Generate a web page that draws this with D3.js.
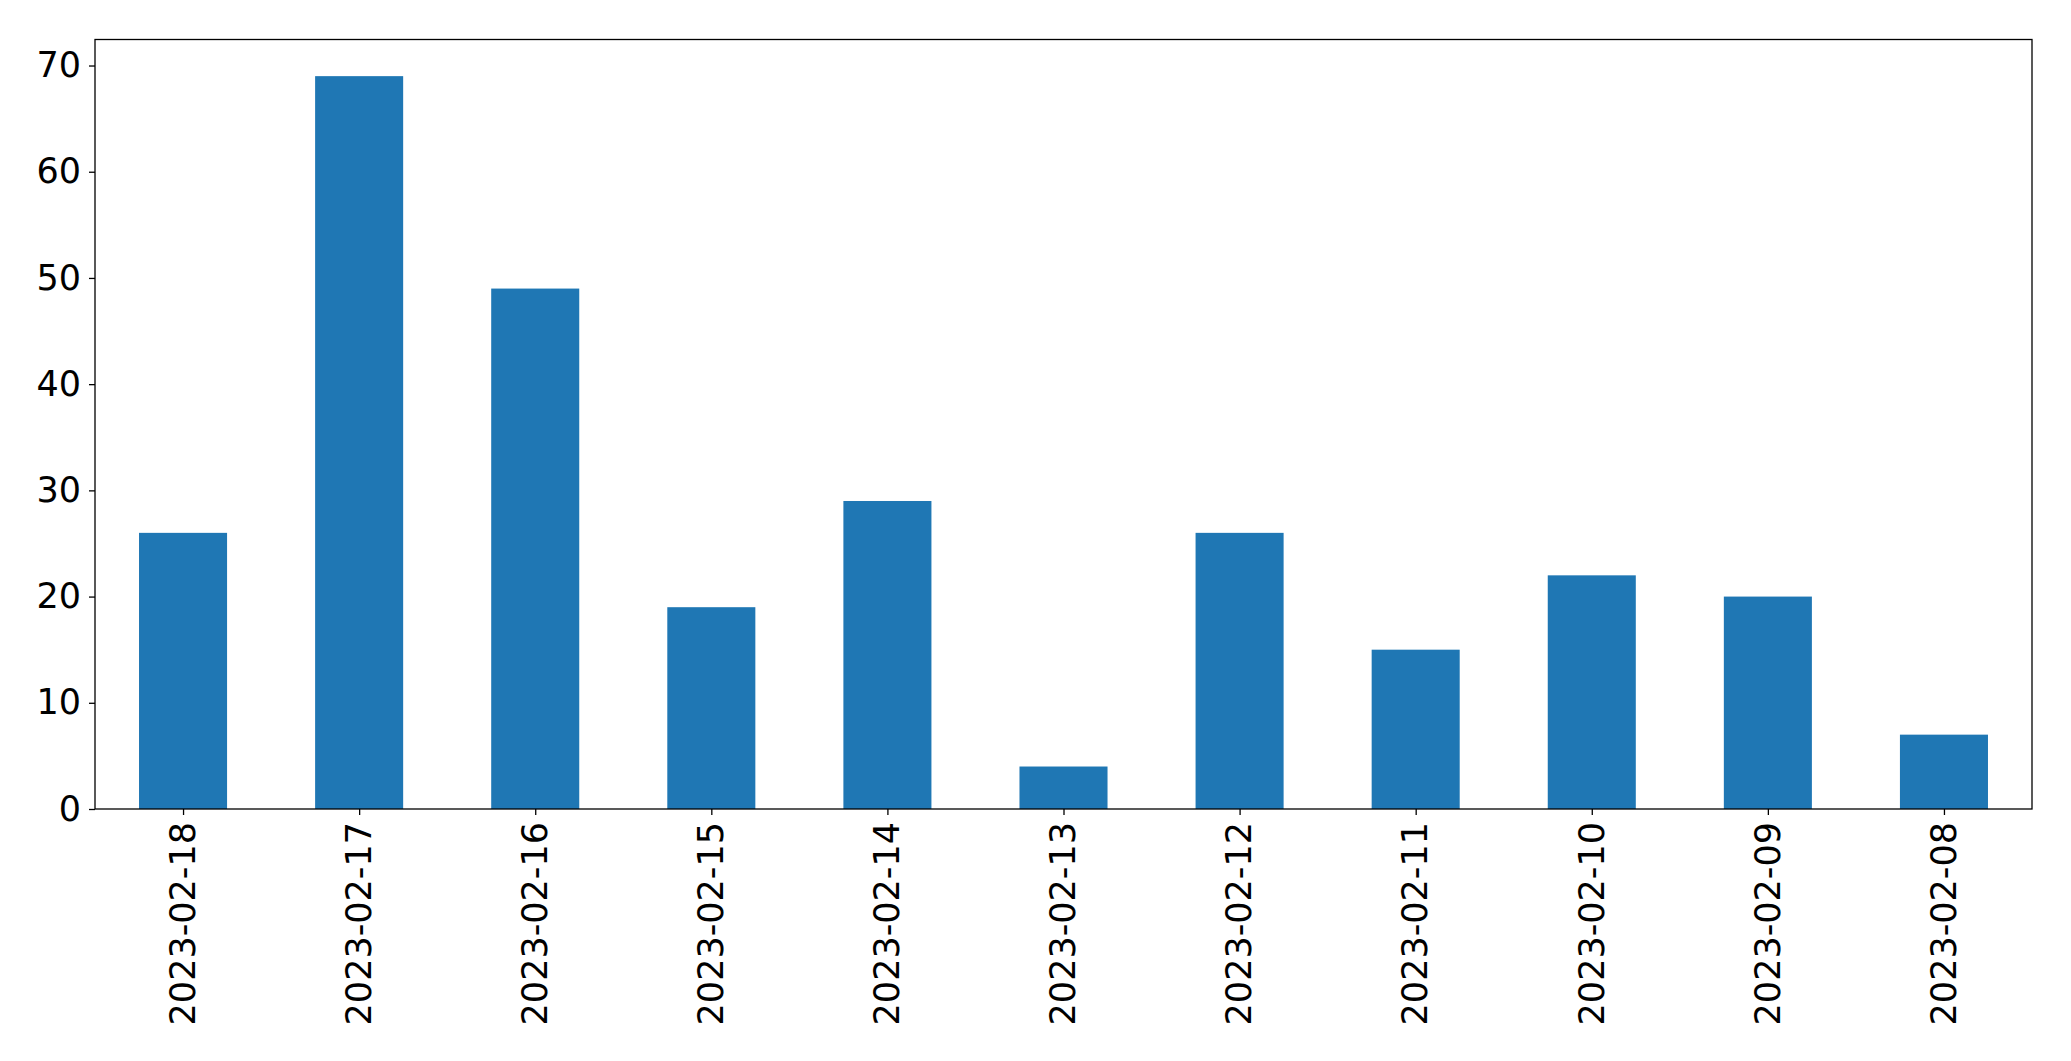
<!DOCTYPE html>
<html>
<head>
<meta charset="utf-8">
<script src="https://cdn.jsdelivr.net/npm/d3@7"></script>
<style>
  html, body { margin: 0; padding: 0; background: #fff; }
  svg { display: block; }
</style>
</head>
<body>
<svg id="chart" width="2071" height="1061"></svg>
<script>
const categories = ["2023-02-18","2023-02-17","2023-02-16","2023-02-15","2023-02-14","2023-02-13","2023-02-12","2023-02-11","2023-02-10","2023-02-09","2023-02-08"];
const values = [26, 69, 49, 19, 29, 4, 26, 15, 22, 20, 7];
const yTicks = [0, 10, 20, 30, 40, 50, 60, 70];

(function () {
const svg = d3.select("#chart");
const mLeft = 95, mRight = 2032, mTop = 39.5, mBottom = 809;
const fontFamily = "'DejaVu Sans', sans-serif";
const fontSize = 35;

const x = d3.scaleLinear().domain([-0.5, categories.length - 0.5]).range([mLeft, mRight]);
const yMax = d3.max(values) * 1.05;
const y = d3.scaleLinear().domain([0, yMax]).range([mBottom, mTop]);

const barW = 0.5;
svg.append("g").selectAll("rect").data(values).join("rect")
  .attr("x", (d, i) => x(i - barW / 2))
  .attr("width", (d, i) => x(i + barW / 2) - x(i - barW / 2))
  .attr("y", d => y(d))
  .attr("height", d => y(0) - y(d))
  .attr("fill", "#1f77b4");

// y axis
const yAxis = d3.axisLeft(y).tickValues(yTicks).tickFormat(d3.format("d")).tickSize(6).tickPadding(8);
const gy = svg.append("g").attr("transform", `translate(${mLeft},0)`).call(yAxis);
gy.select(".domain").remove();
gy.selectAll("line").attr("stroke", "#000").attr("stroke-width", 1.3);
gy.selectAll("text").attr("font-family", fontFamily).attr("font-size", fontSize).attr("fill", "#000");

// x axis
const xAxis = d3.axisBottom(x).tickValues(d3.range(categories.length)).tickFormat(i => categories[i]).tickSize(6).tickPadding(8);
const gx = svg.append("g").attr("transform", `translate(0,${mBottom})`).call(xAxis);
gx.select(".domain").remove();
gx.selectAll("line").attr("stroke", "#000").attr("stroke-width", 1.3);
gx.selectAll("text")
  .attr("font-family", fontFamily).attr("font-size", fontSize).attr("fill", "#000")
  .attr("transform", "rotate(-90)")
  .attr("text-anchor", "end")
  .attr("x", -13)
  .attr("y", -1)
  .attr("dy", "0.35em");

// frame
svg.append("rect")
  .attr("x", mLeft).attr("y", mTop)
  .attr("width", mRight - mLeft).attr("height", mBottom - mTop)
  .attr("fill", "none").attr("stroke", "#000").attr("stroke-width", 1.3);
})();
</script>
</body>
</html>
